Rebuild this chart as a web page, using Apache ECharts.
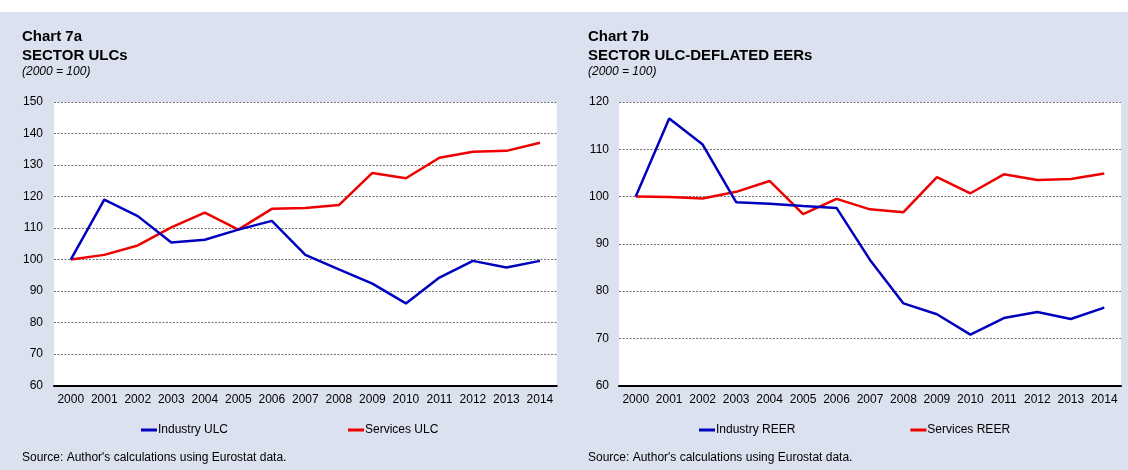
<!DOCTYPE html>
<html>
<head>
<meta charset="utf-8">
<script src="https://cdn.jsdelivr.net/npm/echarts@6/dist/echarts.min.js"></script>
<style>
  html, body { margin: 0; padding: 0; background: #ffffff; }
  #chart { width: 1128px; height: 470px; background: linear-gradient(to bottom, #ffffff 0px, #ffffff 12px, #dbe1ee 12px, #dbe1ee 100%); }
</style>
</head>
<body>
<div id="chart"></div>
<script>
// ---- Data ----
const years = ['2000','2001','2002','2003','2004','2005','2006','2007','2008','2009','2010','2011','2012','2013','2014'];

// Chart 7a: Sector ULCs (2000 = 100)
const industryULC = [100, 119.0, 113.8, 105.4, 106.3, 109.5, 112.3, 101.5, 96.9, 92.4, 86.1, 94.3, 99.6, 97.5, 99.6];
const servicesULC = [100, 101.5, 104.5, 110.2, 114.9, 109.5, 116.1, 116.4, 117.3, 127.5, 125.8, 132.3, 134.2, 134.5, 137.1];

// Chart 7b: Sector ULC-deflated EERs (2000 = 100)
const industryREER = [100, 116.5, 111.0, 98.8, 98.5, 98.0, 97.6, 86.6, 77.4, 75.1, 70.8, 74.3, 75.6, 74.1, 76.5];
const servicesREER = [100, 99.9, 99.6, 101.0, 103.3, 96.3, 99.5, 97.3, 96.7, 104.1, 100.7, 104.7, 103.5, 103.7, 104.9];

const leftTicks = { min: 60, max: 150, interval: 10 };
const rightTicks = { min: 60, max: 120, interval: 10 };

// ---- Styling ----
const FONT = "Arial, 'Liberation Sans', sans-serif";
const BLUE = '#0000bf';
const RED = '#ee0000';

const chart = echarts.init(document.getElementById('chart'), null, { renderer: 'canvas' });

function xAxis(gridIndex) {
  return {
    type: 'category', gridIndex, data: years, boundaryGap: true,
    axisLine: { show: true, lineStyle: { color: '#000', width: 2 } },
    axisTick: { show: false },
    axisLabel: { color: '#000', fontSize: 12, fontFamily: FONT, margin: 8, interval: 0 },
    splitLine: { show: false }
  };
}
function yAxis(gridIndex, t, margin) {
  return {
    type: 'value', gridIndex, min: t.min, max: t.max, interval: t.interval,
    axisLine: { show: false }, axisTick: { show: false },
    axisLabel: { color: '#000', fontSize: 12, fontFamily: FONT, margin: margin },
    splitLine: { show: true, lineStyle: { color: '#707070', type: [2, 1.5], width: 1 } }
  };
}
function line(name, data, color, idx) {
  return {
    name, type: 'line', data, xAxisIndex: idx, yAxisIndex: idx,
    symbol: 'none', showSymbol: false, smooth: false,
    lineStyle: { color, width: 2.5 }, itemStyle: { color },
    z: color === RED ? 3 : 4
  };
}
function titleBlock(left, l1, l2) {
  return [
    { text: l1 + '\n' + l2, left, top: 28, padding: 0,
      textStyle: { fontSize: 15, fontWeight: 'bold', color: '#000', fontFamily: FONT, lineHeight: 18.5 } },
    { text: '(2000 = 100)', left, top: 65, padding: 0,
      textStyle: { fontSize: 12, fontStyle: 'italic', fontWeight: 'normal', color: '#000', fontFamily: FONT, lineHeight: 14 } },
    { text: "Source: Author's calculations using Eurostat data.", left, top: 451, padding: 0,
      textStyle: { fontSize: 12, fontWeight: 'normal', color: '#000', fontFamily: FONT, lineHeight: 14 } }
  ];
}
function legend(names, left, gap) {
  return {
    data: names, left, top: 423, padding: 0, orient: 'horizontal',
    icon: 'rect', itemWidth: 16, itemHeight: 3, itemGap: gap,
    selectedMode: false,
    textStyle: { fontSize: 12, color: '#000', fontFamily: FONT, lineHeight: 14, padding: [0, 0, 0, -4] }
  };
}

const option = {
  backgroundColor: 'transparent',
  animation: false,
  title: [].concat(titleBlock(22, 'Chart 7a', 'SECTOR ULCs'), titleBlock(588, 'Chart 7b', 'SECTOR ULC-DEFLATED EERs')),
  legend: [
    legend(['Industry ULC', 'Services ULC'], 141, 120),
    legend(['Industry REER', 'Services REER'], 699, 115)
  ],
  grid: [
    { left: 54, right: 571.3, top: 102, bottom: 84.3, show: true, backgroundColor: '#ffffff', borderWidth: 0 },
    { left: 619, right: 7, top: 102, bottom: 84.3, show: true, backgroundColor: '#ffffff', borderWidth: 0 }
  ],
  xAxis: [xAxis(0), xAxis(1)],
  yAxis: [yAxis(0, leftTicks, 11), yAxis(1, rightTicks, 10)],
  series: [
    line('Industry ULC', industryULC, BLUE, 0),
    line('Services ULC', servicesULC, RED, 0),
    line('Industry REER', industryREER, BLUE, 1),
    line('Services REER', servicesREER, RED, 1)
  ]
};
chart.setOption(option);
</script>
</body>
</html>
